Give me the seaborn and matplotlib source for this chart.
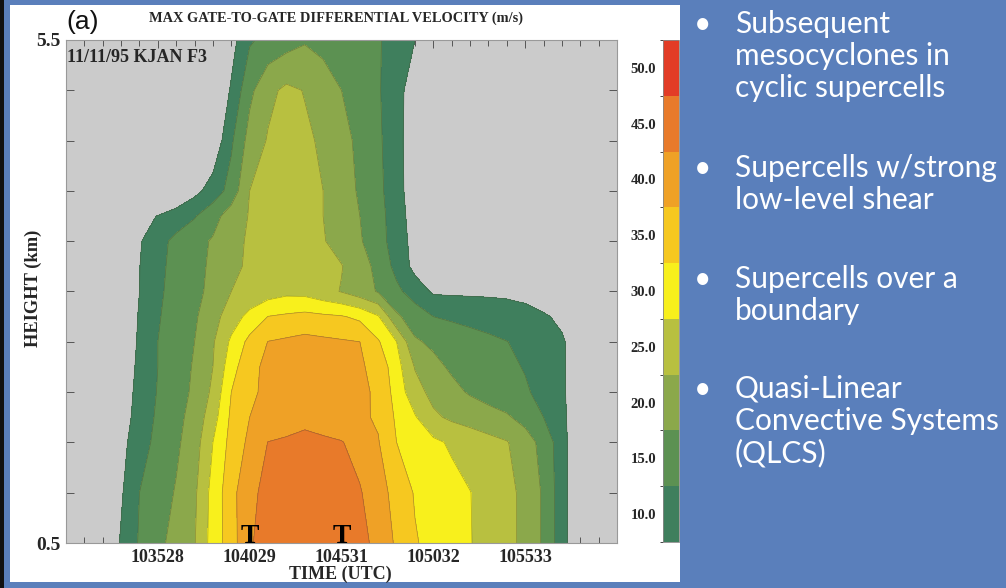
import numpy as np
import matplotlib
matplotlib.use("Agg")
import matplotlib.pyplot as plt
from matplotlib.patches import Rectangle
from matplotlib.colors import ListedColormap, BoundaryNorm
from matplotlib.ticker import MultipleLocator
import seaborn as sns

# time axis in minutes after 10:30 UTC, heights in km
minutes = list(range(31))
heights = [0.5, 1.0, 1.5, 1.75, 2.0, 2.25, 2.5, 2.75, 3.0, 3.25, 3.5, 3.75, 4.0, 4.5, 5.0, 5.5]

# max gate-to-gate differential velocity (m/s), one row per height
v_050 = [0, 0, 5.3, 10.5, 15.5, 18.7, 21.8, 24.7, 32.1, 37.7, 44.8, 45.8, 46.7, 47.6, 47.5, 46.5, 46.5, 43.6, 39.2, 35.4, 33.5, 31.8, 30.2, 28.3, 26.3, 23.8, 19.3, 12.1, 5, 0, 0]
v_100 = [0, 0, 3.9, 9.4, 15, 17.6, 20.4, 24.1, 31.8, 38.1, 44.5, 45.6, 46.5, 47.4, 46.8, 46.0, 45.4, 42.1, 38.2, 34.6, 33.1, 31.6, 30.1, 28.2, 26.3, 23.8, 19.3, 12.1, 5, 0, 0]
v_150 = [0, 0, 4.1, 8.5, 12.8, 16.4, 19.1, 22.7, 30, 36.7, 41.1, 45.1, 45.8, 46.5, 45.9, 45.25, 43.2, 40.3, 35, 33, 31, 29.3, 28, 26.6, 25.3, 22.3, 18.3, 12.1, 5, 0, 0]
v_175 = [0, 0, 3.3, 7.6, 12.0, 15.8, 18.5, 21.9, 27.8, 36, 40, 41.2, 42.3, 43.5, 42.6, 41.7, 40.8, 39.4, 34.2, 30.4, 25.9, 24.1, 22.9, 21.7, 20.6, 18.3, 15, 11, 7, 3, 0]
v_200 = [0, 0, 3.4, 7.4, 11.4, 15.3, 17.9, 20.9, 26, 35, 39.5, 40.6, 41.6, 42.5, 41.8, 41.2, 40.5, 39.6, 32.8, 26.9, 23.5, 21.3, 19.5, 18.2, 16.9, 15.6, 13.5, 10.6, 7.6, 4.7, 2]
v_225 = [0, 0, 3, 7, 11, 15, 17.6, 20.5, 25, 32.9, 38.8, 41, 41.2, 41.5, 41.1, 40.7, 40.6, 38.5, 31.9, 24.7, 21.3, 19.3, 18.2, 17.1, 16.0, 14.7, 12.6, 10.4, 8.3, 6.2, 4]
v_250 = [0, 0, 2, 6.3, 10.7, 15, 17.5, 20, 24.5, 30.9, 36.4, 40.1, 40.8, 41.5, 41, 40.5, 40, 35.5, 30, 20.6, 19.1, 18.1, 17.1, 16.1, 15.1, 13.6, 12.0, 10.3, 8.7, 7, 5.4]
v_275 = [0, 0, 2.1, 6.25, 10.4, 14.6, 17, 19.3, 23.2, 27.5, 31.5, 35.1, 35.8, 36.5, 35.9, 35.4, 33.9, 30.4, 20.8, 17.6, 15, 14.2, 13.4, 12.7, 11.9, 11.1, 10.3, 9.5, 8.75, 8, 7.2]
v_300 = [0, 0, 1.7, 5.8, 10, 14.2, 16.6, 18.7, 21.3, 25, 26.2, 27.5, 28.7, 28.4, 26.6, 24.75, 22.25, 19.6, 16.1, 12.7, 9.3, 9.2, 9.2, 9.2, 9.2, 9.0, 8.5, 7, 5, 3, 1]
v_325 = [0, 0, 2, 5.9, 9.9, 13.8, 16.5, 18.5, 20.9, 24.1, 25.6, 26.6, 27.5, 26.7, 25.9, 25.2, 22.3, 18.5, 13.5, 8.5, 5, 2, 0, 0, 0, 0, 0, 0, 0, 0, 0]
v_350 = [0, 0, 1.7, 5.6, 9.5, 13.4, 16.2, 18.3, 20.5, 23.8, 25.5, 26.2, 27, 26.1, 25.3, 23.2, 20.5, 16.9, 12.7, 8.2, 4, 0, 0, 0, 0, 0, 0, 0, 0, 0, 0]
v_375 = [0, 0, 0, 5.9, 8, 10.2, 12.4, 14.6, 18.1, 22.4, 25.3, 26.1, 26.8, 25.9, 25, 22.5, 20, 16.7, 12.5, 7.5, 2.5, 0, 0, 0, 0, 0, 0, 0, 0, 0, 0]
v_400 = [0, 0, 0, 0, 0, 1.1, 4.8, 8.5, 12.2, 16.9, 25, 25.75, 26.5, 25.75, 25, 22.2, 19.4, 16.25, 12, 7, 2, 0, 0, 0, 0, 0, 0, 0, 0, 0, 0]
v_450 = [0, 0, 0, 0, 0, 0, 0, 2, 6, 14.2, 21.9, 25.4, 26.2, 25.7, 24.4, 21.7, 18.8, 15.9, 11.7, 6.9, 2, 0, 0, 0, 0, 0, 0, 0, 0, 0, 0]
v_500 = [0, 0, 0, 0, 0, 0, 0, 0, 4.4, 10.6, 18.75, 23.75, 26, 24.8, 22.4, 20, 17.7, 15.5, 11.7, 7.5, 3, 0, 0, 0, 0, 0, 0, 0, 0, 0, 0]
v_550 = [0, 0, 0, 0, 0, 0, 0, 0, 1.9, 8.1, 14.4, 16.4, 17.9, 19.5, 18.5, 17.5, 16.4, 15.4, 13.1, 10, 6.9, 3.8, 1, 0, 0, 0, 0, 0, 0, 0, 0]

levels = [10, 15, 20, 25, 30, 35, 40, 45, 50, 55]
level_labels = ["10.0", "15.0", "20.0", "25.0", "30.0", "35.0", "40.0", "45.0", "50.0"]
band_colors = ["#3f7f5d", "#5c9152", "#8ba84b", "#b8c040", "#f8f01c",
               "#f6c820", "#efa126", "#e87a2a", "#e23c26"]

time_ticks = [5, 10, 15, 20, 25]
time_labels = ["103528", "104029", "104531", "105032", "105533"]
tornado_times = [10, 15]

bullets = [
    ["Subsequent", "mesocyclones in", "cyclic supercells"],
    ["Supercells w/strong", "low-level shear"],
    ["Supercells over a", "boundary"],
    ["Quasi-Linear", "Convective Systems", "(QLCS)"],
]
bullet_top = [33, 177, 288, 398]

slide_blue = "#5a7fbb"
serif = ["Liberation Serif", "DejaVu Serif"]

sns.set_style("ticks")
palette = sns.color_palette(band_colors)
cmap = ListedColormap(palette)
norm = BoundaryNorm(levels, cmap.N)

W, H = 1006, 588
fig = plt.figure(figsize=(W / 100, H / 100), dpi=100, facecolor=slide_blue)

def fx(px):
    return px / W

def fy(py):
    return 1 - py / H

# white figure panel and dark left edge of the slide
fig.patches.append(Rectangle((fx(10), fy(582)), fx(670), 577 / H, transform=fig.transFigure,
                             facecolor="white", edgecolor="none", zorder=-5))
fig.patches.append(Rectangle((0, 0), fx(4), 1, transform=fig.transFigure,
                             facecolor="#111111", edgecolor="none", zorder=-5))

ax = fig.add_axes([fx(66), fy(543), fx(551), 503 / H])
ax.set_facecolor("#cbcbcb")

Z = np.array([v_050, v_100, v_150, v_175, v_200, v_225, v_250, v_275,
              v_300, v_325, v_350, v_375, v_400, v_450, v_500, v_550])
X, Y = np.meshgrid(minutes, heights)
cf = ax.contourf(X, Y, Z, levels=levels, cmap=cmap, norm=norm)
ax.contour(X, Y, Z, levels=levels[:-1], colors="#4a4a30", linewidths=0.5, alpha=0.45)

ax.set_xlim(0, 30)
ax.set_ylim(0.5, 5.5)
ax.set_xticks(time_ticks)
ax.set_xticklabels(time_labels)
ax.xaxis.set_minor_locator(MultipleLocator(1))
ax.set_yticks([0.5, 5.5])
ax.set_yticklabels(["0.5", "5.5"])
ax.yaxis.set_minor_locator(MultipleLocator(0.5))
ax.tick_params(which="both", direction="in", top=True, right=True, color="#555555", width=0.7)
ax.tick_params(which="major", length=6, pad=4)
ax.tick_params(which="minor", length=4)
ax.tick_params(axis="y", which="minor", length=6)
for lab in ax.get_xticklabels() + ax.get_yticklabels():
    lab.set_family(serif)
    lab.set_fontweight("bold")
    lab.set_fontsize(13)
for lab in ax.get_yticklabels():
    lab.set_fontsize(14)
for sp in ax.spines.values():
    sp.set_color("#999999")
    sp.set_linewidth(0.8)

for t in tornado_times:
    ax.text(t, 0.5, "T", ha="center", va="baseline", family=serif,
            fontweight="bold", fontsize=20, color="black")

# discrete colour bar
cax = fig.add_axes([fx(663), fy(542), fx(16), 502 / H])
cb = fig.colorbar(cf, cax=cax, orientation="vertical")
cb.set_ticks([l + 2.5 for l in levels[:-1]])
cb.set_ticklabels(level_labels)
cax.yaxis.set_ticks_position("left")
cax.tick_params(length=0, pad=5)
for lab in cax.get_yticklabels():
    lab.set_family(serif)
    lab.set_fontweight("bold")
    lab.set_fontsize(10.5)
cb.outline.set_edgecolor("#888888")
cb.outline.set_linewidth(0.6)

fig.text(fx(66), fy(22), "(a)", ha="left", va="center", family=["Liberation Sans", "DejaVu Sans"],
         fontsize=19, color="#111111")
fig.text(fx(336), fy(18), "MAX GATE-TO-GATE DIFFERENTIAL VELOCITY (m/s)", ha="center", va="center",
         family=serif, fontweight="bold", fontsize=10.4)
fig.text(fx(67), fy(58), "11/11/95 KJAN F3", ha="left", va="center", family=serif,
         fontweight="bold", fontsize=13)
fig.text(fx(33), fy(288), "HEIGHT (km)", ha="center", va="center", rotation=90, family=serif,
         fontweight="bold", fontsize=13.3)
fig.text(fx(340), fy(574), "TIME (UTC)", ha="center", va="center", family=serif,
         fontweight="bold", fontsize=13)

for lines, top in zip(bullets, bullet_top):
    fig.text(fx(703), fy(top), "\u2022", ha="center", va="baseline", color="white",
             family=["Lato", "DejaVu Sans"], fontsize=21.5)
    for i, line in enumerate(lines):
        fig.text(fx(735), fy(top + 32 * i), line, ha="left", va="baseline", color="white",
                 family=["Lato", "DejaVu Sans"], fontsize=21.5)

fig.savefig("out.png", dpi=100, facecolor=fig.get_facecolor())
